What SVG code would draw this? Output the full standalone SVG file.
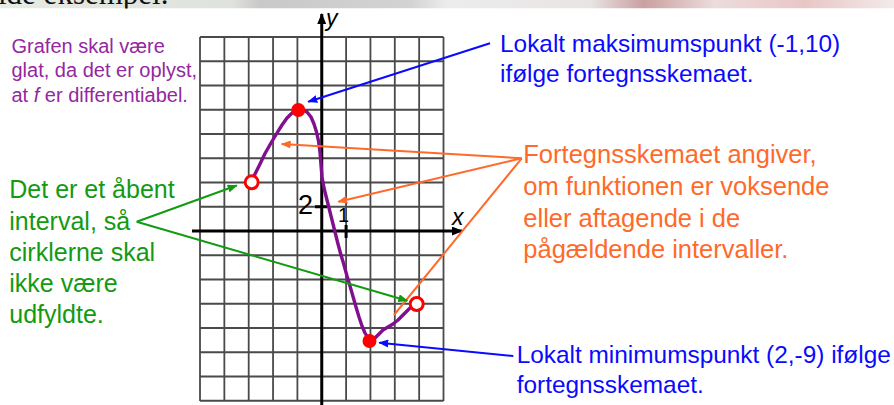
<svg xmlns="http://www.w3.org/2000/svg" width="894" height="405" viewBox="0 0 894 405">
<style>
.t{font-family:"Liberation Sans",Arial,sans-serif}
.grid{stroke:#4a4a4a;stroke-width:1.8;fill:none}
.axis{stroke:#000;stroke-width:3;fill:none}
.blue{stroke:#0a0aff;stroke-width:2;fill:none}
.orange{stroke:#ff6a2a;stroke-width:2;fill:none}
.green{stroke:#129a12;stroke-width:2;fill:none}
</style>
<defs>
<linearGradient id="strip" x1="0" y1="0" x2="1" y2="0">
<stop offset="0" stop-color="#e6ebe3"/>
<stop offset="0.26" stop-color="#dfe2dd"/>
<stop offset="0.29" stop-color="#c9c9c9"/>
<stop offset="0.46" stop-color="#d3d3d3"/>
<stop offset="0.5" stop-color="#ececec"/>
<stop offset="0.66" stop-color="#e9e4e4"/>
<stop offset="0.72" stop-color="#c9a0a0"/>
<stop offset="0.8" stop-color="#ecdcdc"/>
<stop offset="0.9" stop-color="#e9c6c6"/>
<stop offset="1" stop-color="#f3eaea"/>
</linearGradient>
<clipPath id="stripClip"><rect x="0" y="0" width="894" height="8.5"/></clipPath>
<marker id="ab" markerWidth="10" markerHeight="8" refX="9" refY="4" orient="auto" markerUnits="userSpaceOnUse"><path d="M0,0 L10,4 L0,8 Z" fill="#0a0aff"/></marker>
<marker id="ao" markerWidth="10" markerHeight="8" refX="9" refY="4" orient="auto" markerUnits="userSpaceOnUse"><path d="M0,0 L10,4 L0,8 Z" fill="#ff6a2a"/></marker>
<marker id="ag" markerWidth="10" markerHeight="8" refX="9" refY="4" orient="auto" markerUnits="userSpaceOnUse"><path d="M0,0 L10,4 L0,8 Z" fill="#129a12"/></marker>
<marker id="ak" markerWidth="11" markerHeight="9" refX="10" refY="4.5" orient="auto" markerUnits="userSpaceOnUse"><path d="M0,0 L11,4.5 L0,9 Z" fill="#000"/></marker>
</defs>
<rect width="894" height="405" fill="#fff"/>
<g id="header" clip-path="url(#stripClip)">
<rect x="0" y="0" width="894" height="8.5" fill="url(#strip)"/>
<text x="-2" y="4" font-family="Liberation Serif,serif" font-size="31" fill="#111">ide eksempel.</text>
</g>
<g id="grid">
<path class="grid" d="M200,37V401 M224.35,37V401 M248.7,37V401 M273.05,37V401 M297.4,37V401 M346.1,37V401 M370.45,37V401 M394.8,37V401 M419.15,37V401 M443.5,37V401
M200,37H443.5 M200,61.25H443.5 M200,85.5H443.5 M200,109.75H443.5 M200,134H443.5 M200,158.25H443.5 M200,182.5H443.5 M200,206.75H443.5 M200,255.25H443.5 M200,279.5H443.5 M200,303.75H443.5 M200,328H443.5 M200,352.25H443.5 M200,376.5H443.5 M200,400.75H443.5"/>
</g>
<g id="axes">
<line class="axis" x1="192" y1="231" x2="462" y2="231" marker-end="url(#ak)"/>
<line class="axis" x1="321.75" y1="405" x2="321.75" y2="14" marker-end="url(#ak)"/>
<line x1="315" y1="206.75" x2="327" y2="206.75" stroke="#000" stroke-width="3"/>
<line x1="346.1" y1="225" x2="346.1" y2="238" stroke="#000" stroke-width="3"/>
<text class="t" x="326" y="26" font-size="23" font-style="italic" fill="#000">y</text>
<text class="t" x="452" y="225" font-size="23" font-style="italic" fill="#000">x</text>
<text class="t" x="298" y="214" font-size="27" fill="#000">2</text>
<text class="t" x="338" y="222" font-size="20" fill="#000">1</text>
</g>
<g id="curve">
<polyline fill="none" stroke="#80108f" stroke-width="3.4" stroke-linejoin="round" stroke-linecap="round" points="254,176 260,164 265,153.5 271,143 277,133 282,125 287,118 291,114 295,110.5 299,109 303,109.5 307,112 311,117 314,124 316.5,132 318.5,141 320,152 321,165 322,177 324,188 326.5,198 329,208 332,220 335,232 338,244 341,255 344,265 347,276 350,286 353,296.5 356,307 359,317 362,326 365,333 368,338 371,340 374,339 378,335 383,330 388,327 393,324 398,320 403,315 408,310 411,307"/>
</g>
<g id="points">
<circle cx="298.3" cy="110" r="7" fill="#ff0000"/>
<circle cx="369.5" cy="341" r="7" fill="#ff0000"/>
<circle cx="251.7" cy="182.3" r="6.5" fill="#fff" stroke="#ff0000" stroke-width="3"/>
<circle cx="416.7" cy="304" r="6.5" fill="#fff" stroke="#ff0000" stroke-width="3"/>
</g>
<g id="connectors">
<line class="blue" x1="490" y1="43.3" x2="308.3" y2="101.7" marker-end="url(#ab)"/>
<line class="blue" x1="513.3" y1="356" x2="379.3" y2="342.7" marker-end="url(#ab)"/>
<line class="orange" x1="521.7" y1="158.3" x2="281.7" y2="144" marker-end="url(#ao)"/>
<line class="orange" x1="521.7" y1="158.3" x2="338.3" y2="201.7" marker-end="url(#ao)"/>
<line class="orange" x1="521.7" y1="158.3" x2="394" y2="315"/>
<line class="green" x1="136.7" y1="221.7" x2="236.7" y2="185.5" marker-end="url(#ag)"/>
<line class="green" x1="136.7" y1="221.7" x2="407.3" y2="300.7" marker-end="url(#ag)"/>
</g>
<g id="note-smooth" class="t" font-size="20" fill="#93289f">
<text x="11.5" y="52.5">Grafen skal være</text>
<text x="11.5" y="77">glat, da det er oplyst,</text>
<text x="11.5" y="101.5">at <tspan font-style="italic">f</tspan> er differentiabel.</text>
</g>
<g id="note-open" class="t" font-size="25" fill="#129a12">
<text x="9.3" y="198.3">Det er et åbent</text>
<text x="9.3" y="229.5">interval, så</text>
<text x="9.3" y="260.8">cirklerne skal</text>
<text x="9.3" y="292">ikke være</text>
<text x="9.3" y="323.3">udfyldte.</text>
</g>
<g id="note-max" class="t" font-size="24.4" fill="#0a0aff">
<text x="500" y="51.7">Lokalt maksimumspunkt (-1,10)</text>
<text x="500" y="81.7">ifølge fortegnsskemaet.</text>
</g>
<g id="note-sign" class="t" font-size="25.5" fill="#ff6a2a">
<text x="523.3" y="163.3">Fortegnsskemaet angiver,</text>
<text x="523.3" y="195">om funktionen er voksende</text>
<text x="523.3" y="226.7">eller aftagende i de</text>
<text x="523.3" y="258.3">pågældende intervaller.</text>
</g>
<g id="note-min" class="t" font-size="24.4" fill="#0a0aff">
<text x="516.7" y="363.3">Lokalt minimumspunkt (2,-9) ifølge</text>
<text x="516.7" y="393.3">fortegnsskemaet.</text>
</g>
</svg>
